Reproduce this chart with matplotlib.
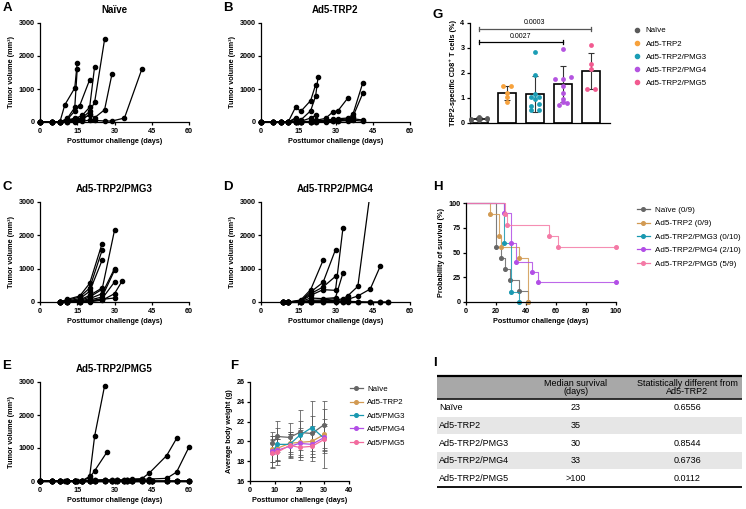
import numpy as np
import matplotlib
matplotlib.use("Agg")
import matplotlib.pyplot as plt
from matplotlib.lines import Line2D
from matplotlib.patches import Rectangle

plt.rcParams['font.family'] = ['Liberation Sans', 'DejaVu Sans']
plt.rcParams['axes.linewidth'] = 0.9
plt.rcParams['xtick.major.size'] = 2.5
plt.rcParams['ytick.major.size'] = 2.5
plt.rcParams['xtick.major.width'] = 0.9
plt.rcParams['ytick.major.width'] = 0.9
plt.rcParams['xtick.major.pad'] = 1.5
plt.rcParams['ytick.major.pad'] = 1.5

# ---------------- data ----------------
# tumor growth, one list per mouse (days, volume mm3)
naive_days = [
    [0, 5, 8, 10, 14, 15],
    [0, 5, 8, 11, 14, 15],
    [0, 5, 8, 11, 14, 16, 20],
    [0, 5, 8, 11, 14, 17, 20, 22],
    [0, 5, 8, 11, 14, 17, 20, 22, 26],
    [0, 5, 8, 11, 14, 17, 20, 22, 26, 29],
    [0, 5, 8, 11, 14, 17, 20, 22, 26, 29, 34, 41],
    [0, 5, 8, 11, 14, 15],
    [0, 5, 8, 11, 14, 17, 20],
]
naive_vol = [
    [0, 0, 0, 520, 1030, 1800],
    [0, 0, 0, 110, 440, 1620],
    [0, 0, 0, 80, 330, 500, 1280],
    [0, 0, 0, 40, 100, 200, 450, 1680],
    [0, 0, 0, 20, 60, 130, 320, 600, 2500],
    [0, 0, 0, 10, 30, 80, 230, 130, 370, 1460],
    [0, 0, 0, 0, 10, 20, 60, 50, 30, 30, 120, 1600],
    [0, 0, 0, 50, 120, 90],
    [0, 0, 0, 20, 50, 100, 220],
]

trp2_days = [
    [0, 5, 8, 11, 14, 16, 20, 22],
    [0, 5, 8, 11, 14, 16, 20, 22, 23],
    [0, 5, 8, 11, 14],
    [0, 5, 8, 11, 14, 16, 20, 22],
    [0, 5, 8, 11, 14, 16, 20, 22, 26, 29, 31, 35],
    [0, 5, 8, 11, 14, 16, 20, 22, 26, 29, 31, 35, 37, 41],
    [0, 5, 8, 11, 14, 16, 20, 22, 26, 29, 31, 35, 37, 41],
    [0, 5, 8, 11, 14, 16, 20, 22, 26, 29, 31, 35, 37, 41],
    [0, 5, 8, 11, 14, 16, 20, 22, 26, 29, 31, 35, 37, 41],
]
trp2_vol = [
    [0, 0, 0, 10, 460, 320, 650, 1130],
    [0, 0, 0, 0, 130, 60, 340, 790, 1370],
    [0, 0, 0, 10, 90],
    [0, 0, 0, 0, 40, 20, 120, 200],
    [0, 0, 0, 0, 0, 10, 20, 50, 110, 310, 340, 730],
    [0, 0, 0, 0, 0, 0, 10, 30, 60, 80, 100, 120, 230, 1190],
    [0, 0, 0, 0, 0, 0, 0, 20, 40, 60, 70, 90, 160, 870],
    [0, 0, 0, 0, 0, 0, 0, 10, 20, 30, 40, 60, 100, 60],
    [0, 0, 0, 0, 0, 0, 0, 0, 10, 20, 30, 40, 50, 30],
]

pmg3_days = [
    [8, 11, 16, 20, 25],
    [8, 11, 16, 20, 25],
    [8, 11, 16, 20, 25],
    [8, 11, 16, 20, 25],
    [8, 11, 16, 20, 25, 30],
    [8, 11, 16, 20, 25, 30],
    [8, 11, 16, 20, 25, 30],
    [8, 11, 16, 20, 25, 30],
    [8, 11, 16, 20, 25, 30, 33],
    [8, 11, 16, 20, 25, 30],
]
pmg3_vol = [
    [0, 80, 180, 560, 1750],
    [0, 50, 150, 420, 1550],
    [0, 30, 100, 320, 1250],
    [0, 20, 60, 200, 420],
    [0, 10, 40, 150, 380, 2150],
    [0, 10, 20, 100, 250, 1000],
    [0, 0, 10, 60, 150, 950],
    [0, 0, 0, 30, 100, 600],
    [0, 0, 0, 10, 50, 250, 620],
    [0, 0, 0, 20, 80, 120],
]

pmg4_days = [
    [9, 11, 16, 20, 25],
    [9, 11, 16, 20, 25, 30],
    [9, 11, 16, 20, 25, 30],
    [9, 11, 16, 20, 25, 30, 33],
    [9, 11, 16, 20, 25, 30, 33],
    [9, 11, 16, 20, 25, 30, 33, 35, 39, 44],
    [9, 11, 16, 20, 25, 30, 33, 35, 39, 44, 48],
    [9, 11, 16, 20, 25, 30],
    [9, 11, 16, 20, 25, 30, 33, 35, 39, 44, 48, 51],
    [9, 11, 16, 20, 25, 30, 33, 35, 39, 44, 48, 51],
]
pmg4_vol = [
    [0, 0, 60, 370, 1250],
    [0, 0, 40, 300, 590, 1570],
    [0, 0, 30, 250, 450, 770],
    [0, 0, 20, 200, 370, 350, 2220],
    [0, 0, 10, 120, 100, 130, 870],
    [0, 0, 0, 20, 30, 50, 100, 190, 470, 3300],
    [0, 0, 0, 10, 20, 30, 40, 80, 180, 390, 1070],
    [0, 0, 10, 50, 60, 100],
    [0, 0, 0, 0, 10, 20, 10, 20, 10, 0, 0, 0],
    [0, 0, 0, 0, 0, 0, 0, 0, 0, 0, 0, 0],
]

pmg5_days = [
    [0, 5, 8, 10, 11, 14, 15, 17, 20, 22, 26],
    [0, 5, 8, 10, 11, 14, 15, 17, 20, 22, 27],
    [0, 5, 8, 11, 14, 17, 20, 22, 26, 29, 31, 34, 35, 37, 41, 44, 51, 55],
    [0, 5, 8, 11, 14, 17, 20, 22, 26, 29, 31, 34, 35, 37, 41, 44, 51, 55, 60],
    [0, 5, 8, 11, 14, 17, 20, 22, 26, 29, 31, 34, 35, 37, 41, 44, 45, 51, 55, 60],
    [0, 5, 8, 11, 14, 17, 20, 22, 26, 29, 31, 34, 35, 37, 41, 44, 45, 51, 55, 60],
    [0, 5, 8, 11, 14, 17, 20, 22, 26, 29, 31, 34, 35, 37, 41, 44, 45, 51, 55, 60],
    [0, 5, 8, 11, 14, 17, 20, 22, 26, 29, 31, 34, 35, 37, 41, 44, 45, 51, 55, 60],
    [0, 5, 8, 11, 14, 17, 20, 22, 26, 29, 31, 34, 35, 37, 41, 44, 45, 51, 55, 60],
]
pmg5_vol = [
    [0, 0, 0, 0, 0, 0, 0, 10, 140, 1360, 2880],
    [0, 0, 0, 0, 0, 0, 0, 10, 100, 310, 880],
    [0, 0, 0, 0, 0, 10, 20, 30, 40, 30, 40, 30, 40, 60, 70, 240, 770, 1290],
    [0, 0, 0, 0, 0, 0, 10, 20, 30, 20, 30, 20, 30, 40, 50, 60, 80, 270, 1030],
    [0, 0, 0, 0, 0, 0, 0, 10, 20, 10, 20, 10, 20, 10, 20, 10, 0, 0, 0, 0],
    [0, 0, 0, 0, 0, 0, 0, 0, 10, 0, 10, 0, 10, 0, 10, 0, 0, 0, 0, 0],
    [0, 0, 0, 0, 0, 0, 0, 0, 0, 0, 0, 0, 0, 0, 0, 0, 0, 0, 0, 0],
    [0, 0, 0, 0, 0, 0, 0, 0, 0, 0, 0, 0, 0, 0, 0, 0, 0, 0, 0, 0],
    [0, 0, 0, 0, 0, 0, 0, 0, 0, 0, 0, 0, 0, 0, 0, 0, 0, 0, 0, 0],
]

# F: body weight
f_labels = ["Naïve", "Ad5-TRP2", "Ad5/PMG3", "Ad5/PMG4", "Ad5/PMG5"]
f_days = [9, 11, 16, 20, 25, 30]
f_mean = [
    [19.8, 20.5, 20.4, 20.9, 20.8, 21.7],
    [19.2, 19.3, 19.8, 19.9, 20.0, 20.7],
    [18.9, 19.7, 19.7, 20.6, 21.4, 20.3],
    [19.0, 19.1, 19.5, 19.8, 19.7, 20.4],
    [18.8, 18.9, 19.6, 19.4, 19.5, 20.2],
]
f_sd = [
    [1.1, 1.6, 1.5, 2.3, 1.8, 2.4],
    [1.3, 1.2, 1.1, 1.5, 1.6, 1.6],
    [1.6, 1.7, 1.3, 1.5, 2.7, 3.0],
    [1.1, 1.1, 1.2, 1.4, 1.3, 1.4],
    [1.4, 1.3, 1.1, 1.3, 1.5, 1.4],
]

# G: tetramer+ CD8 T cells
g_groups = ["Naïve", "Ad5-TRP2", "Ad5-TRP2/PMG3", "Ad5-TRP2/PMG4", "Ad5-TRP2/PMG5"]
g_mean = [0.17, 1.19, 1.15, 1.55, 2.07]
g_sd = [0.05, 0.28, 0.72, 0.71, 0.72]
g_points = [
    [0.10, 0.13, 0.15, 0.18, 0.20, 0.22, 0.16],
    [1.49, 1.49, 1.19, 1.03, 0.85],
    [2.85, 1.91, 1.17, 1.04, 1.04, 0.95, 0.76, 0.68, 0.51, 0.51],
    [2.96, 1.83, 1.75, 1.75, 1.48, 1.19, 0.97, 0.85, 0.79, 0.73],
    [3.12, 2.35, 2.16, 1.37, 1.37],
]
g_pvals = [("0.0027", 0, 3, 3.23), ("0.0003", 0, 4, 3.76)]

# H: survival
h_labels = ["Naïve (0/9)", "Ad5-TRP2 (0/9)", "Ad5-TRP2/PMG3 (0/10)",
            "Ad5-TRP2/PMG4 (2/10)", "Ad5-TRP2/PMG5 (5/9)"]
h_time = [
    [0, 20, 23, 26, 29, 35, 41],
    [0, 16, 22, 23, 35, 41],
    [0, 25, 30, 35],
    [0, 25, 30, 33, 44, 48, 100],
    [0, 26, 27, 55, 61, 100],
]
h_surv = [
    [100, 55.6, 44.4, 33.3, 22.2, 11.1, 0],
    [100, 88.9, 66.7, 55.6, 44.4, 0],
    [100, 60, 10, 0],
    [100, 90, 60, 40, 30, 20, 20],
    [100, 88.9, 77.8, 66.7, 55.6, 55.6],
]

# I: table
i_groups = ["Naïve", "Ad5-TRP2", "Ad5-TRP2/PMG3", "Ad5-TRP2/PMG4", "Ad5-TRP2/PMG5"]
i_median = ["23", "35", "30", "33", ">100"]
i_pval = ["0.6556", "", "0.8544", "0.6736", "0.0112"]

g_colors = ["#5a5a5a", "#f7a23c", "#1b9db5", "#b454e0", "#f25a90"]
h_colors = ["#666666", "#d29a52", "#1898b0", "#b24ee6", "#f47aa6"]
f_colors = ["#666666", "#d29a52", "#1898b0", "#b24ee6", "#f26b9e"]

TICK = 5.2
LAB = 5.2

# ---------------- figure ----------------
W, H = 746, 509
fig = plt.figure(figsize=(W / 100, H / 100), dpi=100)


def box(l, t, r, b):
    return [l / W, 1 - b / H, (r - l) / W, (b - t) / H]


def style(ax):
    ax.spines['top'].set_visible(False)
    ax.spines['right'].set_visible(False)
    ax.tick_params(labelsize=TICK)
    for lab in ax.get_xticklabels() + ax.get_yticklabels():
        lab.set_fontweight('bold')


def letter(x, y, s):
    fig.text(x / W, 1 - y / H, s, fontsize=9.5, fontweight='bold', ha='center', va='center')


def tumor_panel(rect, title, days, vols):
    ax = fig.add_axes(box(*rect))
    for d, v in zip(days, vols):
        ax.plot(d, v, '-o', color='black', ms=3, lw=0.9, clip_on=max(v) > 3000, zorder=3)
    ax.set_xlim(0, 60)
    ax.set_ylim(0, 3000)
    ax.set_xticks([0, 15, 30, 45, 60])
    ax.set_yticks([0, 1000, 2000, 3000])
    ax.set_xlabel('Posttumor challenge (days)', fontsize=LAB, fontweight='bold', labelpad=2.5)
    ax.set_ylabel('Tumor volume (mm³)', fontsize=LAB, fontweight='bold', labelpad=2.5)
    ax.set_title(title, fontsize=7, fontweight='bold', pad=7)
    style(ax)
    return ax


tumor_panel((40, 23, 189, 122), 'Naïve', naive_days, naive_vol)
tumor_panel((261, 23, 410, 122), 'Ad5-TRP2', trp2_days, trp2_vol)
tumor_panel((40, 202, 189, 302), 'Ad5-TRP2/PMG3', pmg3_days, pmg3_vol)
tumor_panel((261, 202, 410, 302), 'Ad5-TRP2/PMG4', pmg4_days, pmg4_vol)
tumor_panel((40, 382, 189, 481), 'Ad5-TRP2/PMG5', pmg5_days, pmg5_vol)

# F
axf = fig.add_axes(box(250, 382, 349, 481))
for lab, m, s, c in zip(f_labels, f_mean, f_sd, f_colors):
    axf.errorbar(f_days, m, yerr=s, color=c, ecolor='#555555', marker='o', ms=2.6, lw=0.9,
                 elinewidth=0.55, capsize=1.8, capthick=0.55, label=lab)
axf.set_xlim(0, 40)
axf.set_ylim(16, 26)
axf.set_xticks([0, 10, 20, 30, 40])
axf.set_yticks([16, 18, 20, 22, 24, 26])
axf.set_xlabel('Posttumor challenge (days)', fontsize=LAB, fontweight='bold', labelpad=2.5)
axf.set_ylabel('Average body weight (g)', fontsize=LAB, fontweight='bold', labelpad=2.5)
style(axf)
fhandles = [Line2D([], [], color=c, marker='o', ms=2.6, lw=0.9) for c in f_colors]
fig.legend(fhandles, f_labels, loc='center left', bbox_to_anchor=(350 / W, 1 - 416 / H),
           frameon=False, fontsize=5.7, handlelength=1.6, handletextpad=0.6,
           labelspacing=0.75, borderpad=0, borderaxespad=0)

# G
axg = fig.add_axes(box(470, 23, 610, 123))
xg = np.arange(len(g_groups))
axg.bar(xg, g_mean, width=0.64, color='white', edgecolor='black', lw=1.2, zorder=2)
axg.errorbar(xg, g_mean, yerr=g_sd, fmt='none', ecolor='#333333', elinewidth=0.8,
             capsize=2.5, capthick=0.8, zorder=3)
for i, (pts, c) in enumerate(zip(g_points, g_colors)):
    vals = np.sort(np.array(pts))
    offs = np.zeros(len(vals))
    start = 0
    for j in range(1, len(vals) + 1):
        if j == len(vals) or vals[j] - vals[start] > 0.085 or j - start == 3:
            n = j - start
            offs[start:j] = (np.arange(n) - (n - 1) / 2) * 0.27
            start = j
    axg.scatter(i + offs, vals, s=12, color=c, zorder=4, lw=0, clip_on=False)
for txt, a, b, yv in g_pvals:
    col = 'black' if txt == '0.0027' else '#555555'
    axg.plot([a, b], [yv, yv], color=col, lw=0.9, clip_on=False)
    axg.plot([a, a], [yv - 0.09, yv + 0.09], color=col, lw=0.9, clip_on=False)
    axg.plot([b, b], [yv - 0.09, yv + 0.09], color=col, lw=0.9, clip_on=False)
    axg.text((a + b) / 2, yv + 0.1, txt, fontsize=5, ha='center', va='bottom')
axg.set_xlim(-0.32, 4.68)
axg.set_ylim(0, 4)
axg.set_xticks([])
axg.set_yticks([0, 1, 2, 3, 4])
axg.set_ylabel('TRP2-specific CD8⁺ T cells (%)', fontsize=LAB, fontweight='bold', labelpad=2.5)
style(axg)
ghandles = [Line2D([], [], color=c, marker='o', ms=3, ls='none') for c in g_colors]
fig.legend(ghandles, g_groups, loc='center left', bbox_to_anchor=(634 / W, 1 - 57 / H),
           frameon=False, fontsize=5.7, handlelength=0.8, handletextpad=0.7,
           labelspacing=0.72, borderpad=0, borderaxespad=0)

# H
axh = fig.add_axes(box(466, 203, 616, 302))
for t, s, c, lab in zip(h_time, h_surv, h_colors, h_labels):
    axh.step(t, s, where='post', color=c, lw=0.8, alpha=0.85, clip_on=False)
    axh.plot(t[1:], s[1:], 'o', color=c, ms=2.6, clip_on=False)
axh.set_xlim(0, 100)
axh.set_ylim(0, 100)
axh.set_xticks([0, 20, 40, 60, 80, 100])
axh.set_yticks([0, 25, 50, 75, 100])
axh.set_xlabel('Posttumor challenge (days)', fontsize=LAB, fontweight='bold', labelpad=2.5)
axh.set_ylabel('Probability of survival (%)', fontsize=LAB, fontweight='bold', labelpad=2.5)
style(axh)
hhandles = [Line2D([], [], color=c, marker='o', ms=2.6, lw=0.9) for c in h_colors]
fig.legend(hhandles, h_labels, loc='center left', bbox_to_anchor=(637 / W, 1 - 237 / H),
           frameon=False, fontsize=5.8, handlelength=1.6, handletextpad=0.6,
           labelspacing=0.72, borderpad=0, borderaxespad=0)

# I: table
axt = fig.add_axes(box(437, 374, 742, 489))
axt.set_xlim(437, 742)
axt.set_ylim(489, 374)
axt.axis('off')
top, head, bot = 376, 399, 487
axt.add_patch(Rectangle((437, top), 305, head - top, color='#a8a8a8', lw=0))
rh = (bot - head) / len(i_groups)
for k, (g, m, p) in enumerate(zip(i_groups, i_median, i_pval)):
    y0 = head + k * rh
    if k % 2 == 1:
        axt.add_patch(Rectangle((437, y0), 305, rh, color='#e6e6e6', lw=0))
    yc = y0 + rh / 2
    axt.text(439, yc, g, fontsize=6.5, ha='left', va='center')
    axt.text(576, yc, m, fontsize=6.5, ha='center', va='center')
    axt.text(687, yc, p, fontsize=6.5, ha='center', va='center')
axt.text(576, (top + head) / 2, 'Median survival\n(days)', fontsize=6.5, ha='center',
         va='center', linespacing=0.95)
axt.text(687, (top + head) / 2, 'Statistically different from\nAd5-TRP2', fontsize=6.5,
         ha='center', va='center', linespacing=0.95)
axt.plot([437, 742], [top, top], color='black', lw=1.6)
axt.plot([437, 742], [head, head], color='#222222', lw=1.3)
axt.plot([437, 742], [bot, bot], color='black', lw=1.3)

letter(7, 8, 'A')
letter(228, 8, 'B')
letter(7, 187, 'C')
letter(228, 187, 'D')
letter(7, 366, 'E')
letter(234, 366, 'F')
letter(438, 15, 'G')
letter(438, 187, 'H')
letter(435, 363, 'I')

fig.savefig('out.png', dpi=100)
